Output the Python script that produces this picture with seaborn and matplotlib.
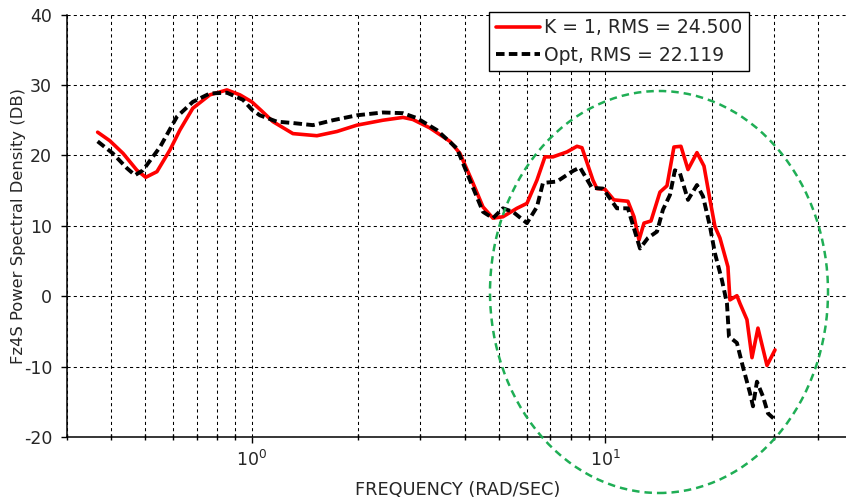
import numpy as np
import pandas as pd
import matplotlib
matplotlib.use("Agg")
import matplotlib.pyplot as plt
import seaborn as sns
from matplotlib.patches import Ellipse
from matplotlib.ticker import LogLocator, NullFormatter

# Fz4S power spectral density, baseline gain (K = 1)
k1_freq = [0.367, 0.397, 0.433, 0.474, 0.502, 0.540, 0.588, 0.627, 0.682, 0.762,
           0.852, 0.927, 1.002, 1.069, 1.149, 1.309, 1.530, 1.743, 1.986, 2.351,
           2.679, 2.859, 3.194, 3.638, 3.882, 4.225, 4.511, 4.814, 5.136, 5.627,
           6.006, 6.411, 6.753, 7.115, 7.794, 8.318, 8.593, 9.231, 9.474, 9.980,
           10.58, 11.59, 12.06, 12.46, 12.87, 13.47, 14.28, 14.95, 15.64, 16.37,
           17.14, 18.17, 19.02, 19.78, 20.43, 21.10, 22.23, 22.52, 23.57, 24.04,
           25.16, 26.00, 27.03, 28.67, 30.20]
k1_db = [23.3, 22.1, 20.3, 17.9, 16.9, 17.7, 20.8, 23.6, 26.7, 28.6,
         29.3, 28.6, 27.6, 26.3, 24.8, 23.1, 22.8, 23.4, 24.3, 25.0,
         25.4, 25.1, 23.9, 22.0, 20.3, 16.1, 12.7, 11.1, 11.3, 12.5,
         13.2, 16.5, 19.8, 19.8, 20.5, 21.3, 21.1, 16.5, 15.3, 15.2,
         13.7, 13.5, 11.3, 8.0, 10.4, 10.7, 14.8, 15.7, 21.2, 21.3,
         18.0, 20.4, 18.5, 13.7, 9.9, 8.3, 4.2, -0.5, 0.1, -1.0,
         -3.3, -8.7, -4.5, -9.8, -7.6]

# Fz4S power spectral density, optimised gains
opt_freq = [0.367, 0.405, 0.444, 0.468, 0.493, 0.551, 0.615, 0.682, 0.762, 0.852,
            0.945, 1.002, 1.055, 1.179, 1.309, 1.491, 1.698, 1.986, 2.351, 2.679,
            2.934, 3.342, 3.807, 4.143, 4.511, 4.814, 5.136, 5.483, 6.006, 6.411,
            6.666, 7.302, 8.104, 8.482, 9.171, 9.851, 10.79, 11.59, 12.54, 13.21,
            14.01, 14.56, 15.24, 15.74, 16.26, 17.14, 18.17, 18.90, 19.78, 20.43,
            21.38, 22.09, 22.38, 23.57, 24.51, 25.66, 26.17, 26.85, 27.93, 28.85,
            30.20]
opt_db = [22.0, 20.3, 18.2, 17.2, 17.9, 21.2, 25.5, 27.6, 28.8, 28.9,
          27.9, 26.5, 25.7, 24.8, 24.6, 24.3, 25.0, 25.7, 26.1, 26.0,
          25.3, 23.6, 21.0, 16.5, 12.0, 11.1, 12.5, 12.0, 10.4, 12.7,
          16.1, 16.3, 17.8, 18.3, 15.4, 15.3, 12.5, 12.5, 6.8, 8.3,
          9.2, 12.3, 14.4, 17.9, 17.5, 13.7, 15.8, 14.2, 9.9, 6.1,
          2.3, -1.0, -5.7, -6.6, -10.0, -13.7, -15.6, -12.1, -14.2, -16.6,
          -17.5]

series_labels = ["K = 1, RMS = 24.500", "Opt, RMS = 22.119"]
y_ticks = [-20, -10, 0, 10, 20, 30, 40]

sns.set_style("white")
plt.rcParams["font.family"] = ["DejaVu Sans"]
plt.rcParams["axes.unicode_minus"] = False

fig = plt.figure(figsize=(8.46, 4.99), dpi=100)
ax = fig.add_axes([0.0788, 0.1236, 0.9288, 0.8473])

df_k1 = pd.DataFrame({"freq": k1_freq, "psd": k1_db})
df_opt = pd.DataFrame({"freq": opt_freq, "psd": opt_db})

sns.lineplot(data=df_k1, x="freq", y="psd", ax=ax, color="#ff0000", lw=2.6,
             estimator=None, sort=False, label=series_labels[0], zorder=4)
sns.lineplot(data=df_opt, x="freq", y="psd", ax=ax, color="black", lw=2.8,
             linestyle=(0, (2.2, 1.1)), estimator=None, sort=False,
             label=series_labels[1], zorder=4)

ax.set_xscale("log")
ax.set_xlim(0.3, 50)
ax.set_ylim(-20, 40)
ax.set_yticks(y_ticks)
ax.xaxis.set_major_locator(LogLocator(base=10, numticks=10))
ax.xaxis.set_minor_locator(LogLocator(base=10, subs=np.arange(2, 10), numticks=20))
ax.xaxis.set_minor_formatter(NullFormatter())

grid_kw = dict(color="black", linestyle=(0, (3, 3)), linewidth=0.75)
ax.grid(which="both", axis="x", **grid_kw)
ax.grid(which="major", axis="y", **grid_kw)
ax.set_axisbelow(True)

for side in ("top", "right"):
    ax.spines[side].set_visible(False)
for side in ("left", "bottom"):
    ax.spines[side].set_color("black")
    ax.spines[side].set_linewidth(1.1)

ax.tick_params(axis="y", which="major", left=True, direction="out", length=4.5,
               width=1, pad=6, labelsize=12.5, color="black")
ax.tick_params(axis="x", which="major", bottom=True, direction="out", length=4.5,
               width=1, pad=4.5, labelsize=12.5, color="black")
ax.tick_params(axis="x", which="minor", bottom=True, direction="inout", length=4,
               width=1, color="black")

ax.set_xlabel("FREQUENCY (RAD/SEC)", fontsize=12.8)
ax.xaxis.set_label_coords(0.498, -0.1034)
ax.set_ylabel("Fz4S Power Spectral Density (DB)", fontsize=11.8)
ax.yaxis.set_label_coords(-0.052, 0.5)

leg = ax.legend(loc="upper left", bbox_to_anchor=(489 / 846, 1 - 11.7 / 499),
                bbox_transform=fig.transFigure, borderaxespad=0, fontsize=13.5,
                handlelength=2.35, handletextpad=0.25, borderpad=0.35,
                labelspacing=0.45, frameon=True, fancybox=False,
                edgecolor="black", framealpha=1)
leg.get_frame().set_linewidth(1.0)

# highlight ring around the high-frequency region
ring = Ellipse((659 / 846, 1 - 292 / 499), 338 / 846, 402 / 499,
               transform=fig.transFigure, fill=False, edgecolor="#1fae55",
               linewidth=1.8, linestyle=(0, (3, 2)), clip_on=False, zorder=6)
fig.add_artist(ring)

fig.savefig("out.png", dpi=100)
